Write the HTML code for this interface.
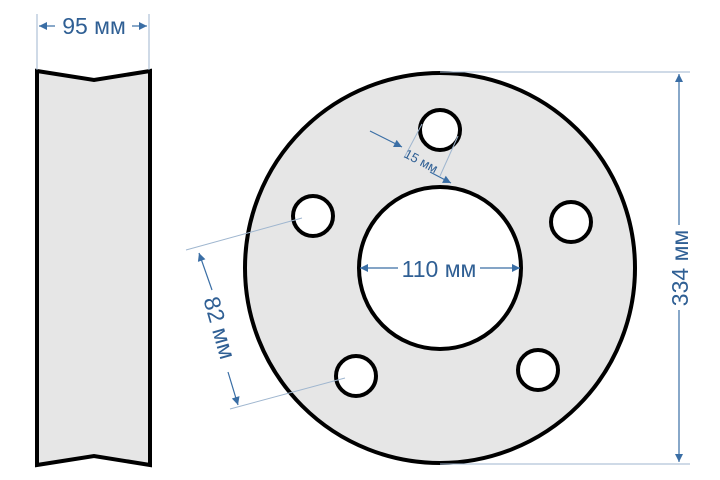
<!DOCTYPE html>
<html><head><meta charset="utf-8"><style>body{margin:0;background:#fff}svg{display:block}</style></head><body>
<svg width="720" height="480" viewBox="0 0 720 480" xmlns="http://www.w3.org/2000/svg" font-family="Liberation Sans, sans-serif">
<defs>
<marker id="a" viewBox="0 0 10 10" refX="10" refY="5" markerWidth="12" markerHeight="8" markerUnits="userSpaceOnUse" orient="auto-start-reverse"><path d="M0,0L10,5L0,10z" fill="#3a6ea5"/></marker>
</defs>
<!-- side view -->
<path d="M37,71 L94,80 L150,71 L150,465 L94,456 L37,465 Z" fill="#e6e6e6" stroke="#000" stroke-width="4" stroke-linejoin="miter"/>
<!-- front view -->
<circle cx="440" cy="268" r="195" fill="#e6e6e6" stroke="#000" stroke-width="4"/>
<circle cx="440" cy="268" r="81" fill="#fff" stroke="#000" stroke-width="4"/>
<g fill="#fff" stroke="#000" stroke-width="4">
<circle cx="440" cy="130" r="20"/>
<circle cx="313" cy="216" r="20"/>
<circle cx="571" cy="222" r="20"/>
<circle cx="356" cy="376" r="20"/>
<circle cx="538" cy="370" r="20"/>
</g>
<g stroke="#9fb6cf" stroke-width="1">
<line x1="37" y1="14" x2="37" y2="70"/><line x1="149" y1="14" x2="149" y2="70"/>
<line x1="440" y1="72" x2="690" y2="72"/><line x1="440" y1="464" x2="690" y2="464"/>
<line x1="186" y1="250" x2="302" y2="218"/><line x1="230" y1="409" x2="345" y2="378"/>
<line x1="422" y1="124" x2="404" y2="158"/><line x1="458" y1="136" x2="440" y2="176"/>
</g>
<g stroke="#3a6ea5" stroke-width="1.2" fill="none">
<line x1="39" y1="26" x2="55" y2="26" marker-start="url(#a)"/>
<line x1="132" y1="26" x2="147" y2="26" marker-end="url(#a)"/>
<line x1="679" y1="74" x2="679" y2="225" marker-start="url(#a)"/>
<line x1="679" y1="310" x2="679" y2="462" marker-end="url(#a)"/>
<line x1="199" y1="253" x2="212" y2="290" marker-start="url(#a)"/>
<line x1="228" y1="372" x2="238" y2="405" marker-end="url(#a)"/>
<line x1="360" y1="268" x2="398" y2="268" marker-start="url(#a)"/>
<line x1="480" y1="268" x2="520" y2="268" marker-end="url(#a)"/>
<line x1="370" y1="131" x2="402" y2="147" marker-end="url(#a)"/>
<line x1="430" y1="172" x2="451" y2="183" marker-end="url(#a)"/>
</g>
<g fill="#2f5f94" font-size="23">
<text x="94" y="34" text-anchor="middle">95 мм</text>
<text x="439" y="277" text-anchor="middle">110 мм</text>
<text transform="translate(688,268) rotate(-90)" text-anchor="middle">334 мм</text>
<text transform="translate(212,330) rotate(74)" text-anchor="middle">82 мм</text>
<text transform="translate(419,165) rotate(28)" text-anchor="middle" font-size="13">15 мм</text>
</g>
</svg>
</body></html>
